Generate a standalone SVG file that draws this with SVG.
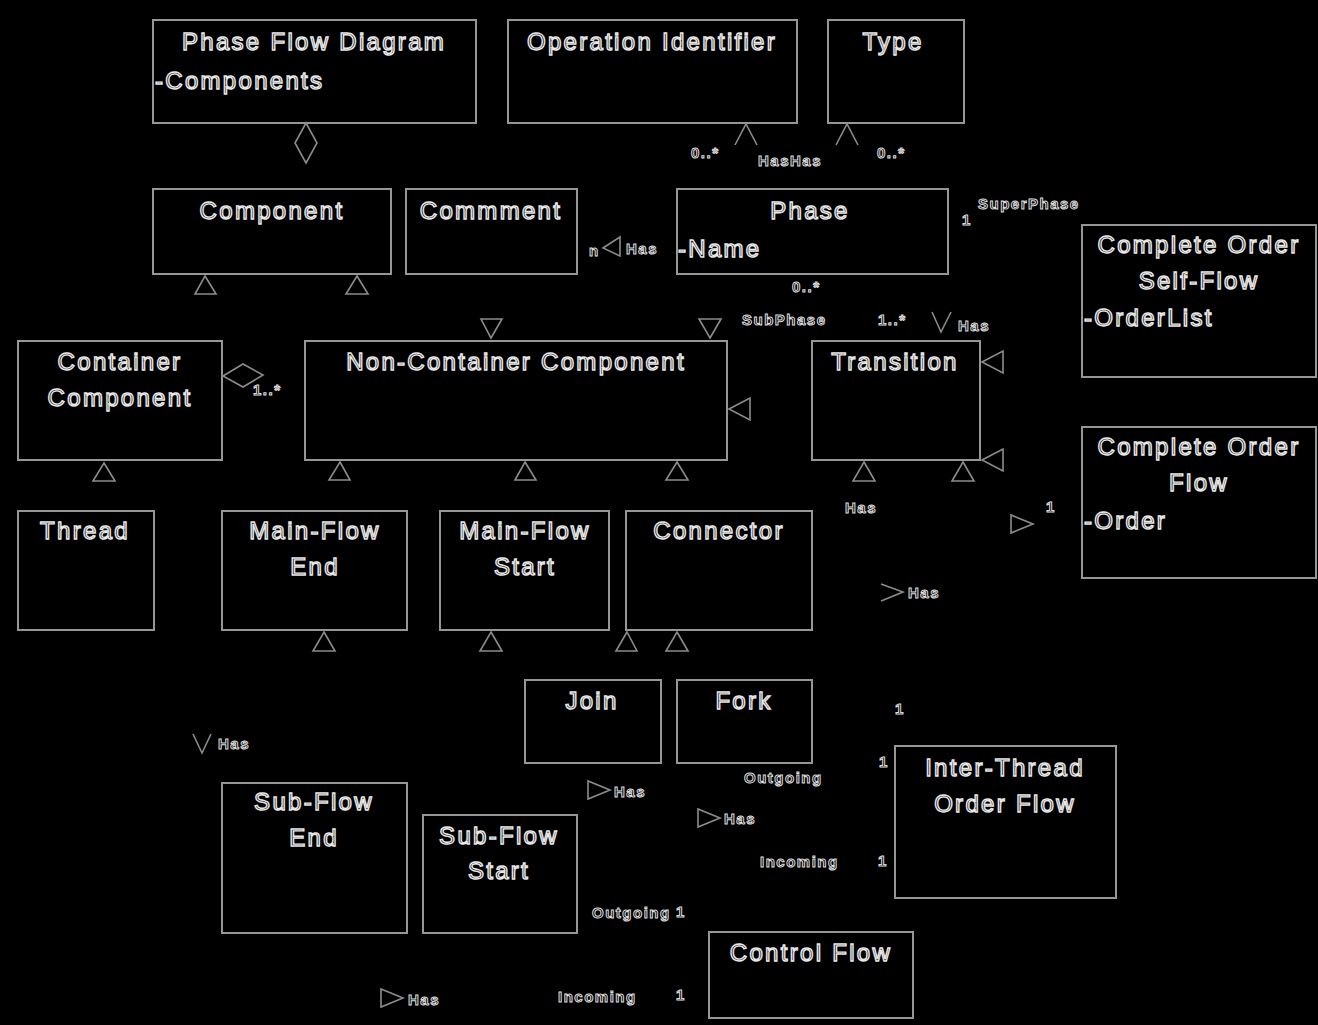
<svg xmlns="http://www.w3.org/2000/svg" width="1318" height="1025" viewBox="0 0 1318 1025">
<style>
.bg{fill:#000}
.box{fill:#000;stroke:#969696;stroke-width:2}
.t{font-family:"Liberation Sans",Arial,sans-serif;font-size:24px;fill:#000;stroke:#e8e8e8;stroke-width:1.4;letter-spacing:2.3px}
.c{text-anchor:middle}
.s{font-family:"Liberation Sans",Arial,sans-serif;font-size:15px;font-weight:bold;fill:#000;stroke:#dcdcdc;stroke-width:1;letter-spacing:1.5px}
.ah{fill:none;stroke:#8c8c8c;stroke-width:1.6;stroke-linejoin:miter}
</style>
<rect class="bg" x="0" y="0" width="1318" height="1025"/>

<g id="phase-flow-diagram"><rect class="box" x="153" y="20" width="323" height="103"/><text class="t c" x="314" y="50">Phase Flow Diagram</text><text class="t" x="155" y="89">-Components</text></g>
<g id="operation-identifier"><rect class="box" x="508" y="20" width="289" height="103"/><text class="t c" x="652" y="50">Operation Identifier</text></g>
<g id="type"><rect class="box" x="828" y="20" width="136" height="103"/><text class="t c" x="893" y="50">Type</text></g>
<g id="component"><rect class="box" x="153" y="189" width="238" height="85"/><text class="t c" x="272" y="219">Component</text></g>
<g id="commment"><rect class="box" x="406" y="189" width="171" height="85"/><text class="t c" x="491" y="219">Commment</text></g>
<g id="phase"><rect class="box" x="677" y="189" width="271" height="85"/><text class="t c" x="810" y="219">Phase</text><text class="t" x="678" y="257">-Name</text></g>
<g id="complete-order-self-flow"><rect class="box" x="1082" y="225" width="234" height="152"/><text class="t c" x="1199" y="253">Complete Order</text><text class="t c" x="1199" y="289">Self-Flow</text><text class="t" x="1084" y="326">-OrderList</text></g>
<g id="container-component"><rect class="box" x="18" y="341" width="204" height="119"/><text class="t c" x="120" y="370">Container</text><text class="t c" x="120" y="406">Component</text></g>
<g id="non-container-component"><rect class="box" x="305" y="341" width="422" height="119"/><text class="t c" x="516" y="370">Non-Container Component</text></g>
<g id="transition"><rect class="box" x="812" y="341" width="168" height="119"/><text class="t c" x="895" y="370">Transition</text></g>
<g id="complete-order-flow"><rect class="box" x="1082" y="427" width="234" height="151"/><text class="t c" x="1199" y="455">Complete Order</text><text class="t c" x="1199" y="491">Flow</text><text class="t" x="1084" y="529">-Order</text></g>
<g id="thread"><rect class="box" x="18" y="511" width="136" height="119"/><text class="t c" x="85" y="539">Thread</text></g>
<g id="main-flow-end"><rect class="box" x="222" y="511" width="185" height="119"/><text class="t c" x="315" y="539">Main-Flow</text><text class="t c" x="315" y="575">End</text></g>
<g id="main-flow-start"><rect class="box" x="440" y="511" width="169" height="119"/><text class="t c" x="525" y="539">Main-Flow</text><text class="t c" x="525" y="575">Start</text></g>
<g id="connector"><rect class="box" x="626" y="511" width="186" height="119"/><text class="t c" x="719" y="539">Connector</text></g>
<g id="join"><rect class="box" x="525" y="680" width="136" height="83"/><text class="t c" x="592" y="709">Join</text></g>
<g id="fork"><rect class="box" x="677" y="680" width="135" height="83"/><text class="t c" x="744" y="709">Fork</text></g>
<g id="inter-thread-order-flow"><rect class="box" x="895" y="746" width="221" height="152"/><text class="t c" x="1005" y="776">Inter-Thread</text><text class="t c" x="1005" y="812">Order Flow</text></g>
<g id="sub-flow-end"><rect class="box" x="222" y="783" width="185" height="150"/><text class="t c" x="314" y="810">Sub-Flow</text><text class="t c" x="314" y="846">End</text></g>
<g id="sub-flow-start"><rect class="box" x="423" y="815" width="154" height="118"/><text class="t c" x="499" y="844">Sub-Flow</text><text class="t c" x="499" y="879">Start</text></g>
<g id="control-flow"><rect class="box" x="709" y="932" width="204" height="86"/><text class="t c" x="811" y="961">Control Flow</text></g>

<g id="connectors">
  <path class="ah" d="M306,123 L317,143 L306,163 L295,143 Z"/>
  <path class="ah" d="M223,376 L243,364 L263,375 L243,387 Z"/>
  <path class="ah" d="M735,145 L746,124 L757,145"/>
  <path class="ah" d="M836,145 L847,124 L858,145"/>
  <path class="ah" d="M932,312 L941,332 L951,312"/>
  <path class="ah" d="M881,584 L903,592 L881,601"/>
  <path class="ah" d="M193,734 L202,753 L211,734"/>
  <path class="ah" d="M205,276 L216,294 L195,294 Z"/>
  <path class="ah" d="M357,276 L368,294 L346,294 Z"/>
  <path class="ah" d="M491,338 L502,319 L481,319 Z"/>
  <path class="ah" d="M710,338 L721,319 L699,319 Z"/>
  <path class="ah" d="M729,409 L750,398 L750,420 Z"/>
  <path class="ah" d="M982,362 L1003,351 L1003,373 Z"/>
  <path class="ah" d="M982,460 L1003,449 L1003,471 Z"/>
  <path class="ah" d="M104,463 L115,481 L93,481 Z"/>
  <path class="ah" d="M340,462 L350,480 L329,480 Z"/>
  <path class="ah" d="M525,462 L536,480 L515,480 Z"/>
  <path class="ah" d="M677,462 L688,480 L666,480 Z"/>
  <path class="ah" d="M864,462 L875,481 L853,481 Z"/>
  <path class="ah" d="M963,462 L974,481 L952,481 Z"/>
  <path class="ah" d="M324,632 L335,651 L313,651 Z"/>
  <path class="ah" d="M491,632 L502,651 L480,651 Z"/>
  <path class="ah" d="M627,632 L637,651 L616,651 Z"/>
  <path class="ah" d="M677,632 L688,651 L666,651 Z"/>
  <path class="ah" d="M603,248 L620,237 L620,256 Z"/>
  <path class="ah" d="M1033,524 L1011,515 L1011,533 Z"/>
  <path class="ah" d="M610,790 L588,781 L588,799 Z"/>
  <path class="ah" d="M720,818 L698,809 L698,827 Z"/>
  <path class="ah" d="M403,998 L381,989 L381,1007 Z"/>
  <text class="s" x="691" y="158">0..*</text>
  <text class="s" x="758" y="166">HasHas</text>
  <text class="s" x="877" y="158">0..*</text>
  <text class="s" x="978" y="209">SuperPhase</text>
  <text class="s" x="962" y="225">1</text>
  <text class="s" x="589" y="256">n</text>
  <text class="s" x="626" y="254">Has</text>
  <text class="s" x="792" y="292">0..*</text>
  <text class="s" x="742" y="325">SubPhase</text>
  <text class="s" x="878" y="325">1..*</text>
  <text class="s" x="958" y="331">Has</text>
  <text class="s" x="253" y="395">1..*</text>
  <text class="s" x="845" y="513">Has</text>
  <text class="s" x="1046" y="512">1</text>
  <text class="s" x="908" y="598">Has</text>
  <text class="s" x="895" y="714">1</text>
  <text class="s" x="218" y="749">Has</text>
  <text class="s" x="879" y="767">1</text>
  <text class="s" x="744" y="783">Outgoing</text>
  <text class="s" x="614" y="797">Has</text>
  <text class="s" x="724" y="824">Has</text>
  <text class="s" x="760" y="867">Incoming</text>
  <text class="s" x="878" y="866">1</text>
  <text class="s" x="592" y="918">Outgoing</text>
  <text class="s" x="676" y="917">1</text>
  <text class="s" x="408" y="1005">Has</text>
  <text class="s" x="558" y="1002">Incoming</text>
  <text class="s" x="676" y="1000">1</text>
</g>
</svg>
